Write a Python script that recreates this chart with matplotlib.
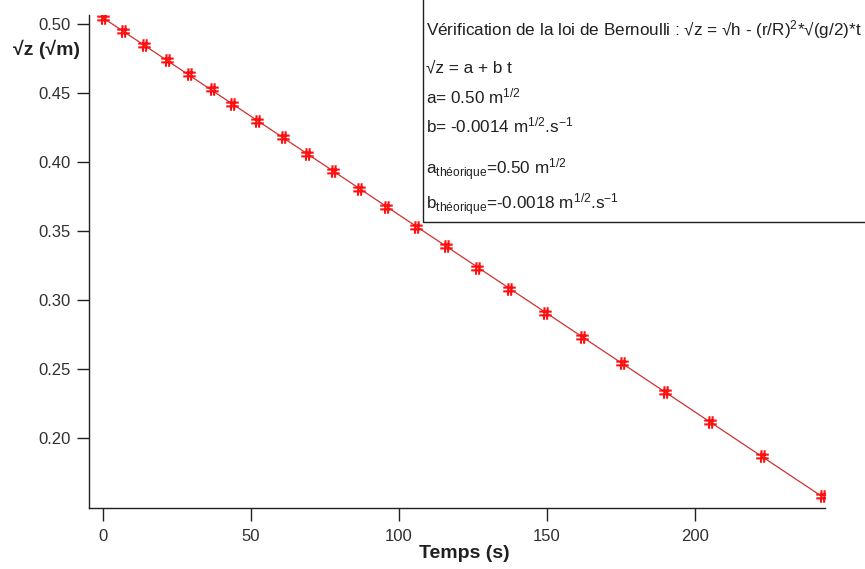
import numpy as np
import matplotlib
matplotlib.use("Agg")
import matplotlib.pyplot as plt
from matplotlib.patches import Rectangle
from matplotlib.path import Path

plt.rcParams['font.family'] = ['Liberation Sans', 'DejaVu Sans']
plt.rcParams['mathtext.fontset'] = 'custom'
plt.rcParams['mathtext.rm'] = 'Liberation Sans'
plt.rcParams['mathtext.it'] = 'Liberation Sans'
plt.rcParams['mathtext.bf'] = 'Liberation Sans:bold'

# Draining measurements: time (s) and square root of water height (sqrt(m))
temps = [0.0, 6.8, 13.9, 21.6, 29.1, 36.8, 43.6, 52.0, 60.8, 68.9, 77.7, 86.5,
         95.6, 105.7, 115.9, 126.4, 137.2, 149.3, 161.8, 175.3, 189.9, 205.1,
         222.6, 242.9]
racine_z = [0.5043, 0.4949, 0.4848, 0.4739, 0.4638, 0.4529, 0.4420, 0.4297,
            0.4181, 0.4058, 0.3935, 0.3804, 0.3674, 0.3529, 0.3391, 0.3232,
            0.3080, 0.2906, 0.2732, 0.2543, 0.2333, 0.2116, 0.1870, 0.1580]

x_ticks = [0, 50, 100, 150, 200]
y_ticks = [0.20, 0.25, 0.30, 0.35, 0.40, 0.45, 0.50]

t = np.array(temps)
sz = np.array(racine_z)
b_fit, a_fit = np.polyfit(t, sz, 1)
t_line = np.array([t.min(), t.max()])

# Hash-shaped marker: two slightly slanted verticals and two horizontals
hash_marker = Path(
    [(-0.25, -1.0), (-0.15, 1.0), (0.25, -1.0), (0.35, 1.0),
     (-1.0, 0.3), (1.0, 0.3), (-1.0, -0.3), (1.0, -0.3)],
    [Path.MOVETO, Path.LINETO] * 4)

fig = plt.figure(figsize=(8.65, 5.69), dpi=100)
ax = fig.add_axes([89/865, 1 - 508/569, (825 - 89)/865, (508 - 15)/569])

ax.plot(t_line, a_fit + b_fit * t_line, color='#d03030', lw=0.9, zorder=2)
ax.plot(t, sz, linestyle='none', marker=hash_marker, markersize=9,
        markerfacecolor='none', markeredgecolor='#ff1010',
        markeredgewidth=1.5, zorder=3)

ax.set_xlim(-4.7, 244)
ax.set_ylim(0.149, 0.5065)
ax.set_xticks(x_ticks)
ax.set_yticks(y_ticks)
ax.set_yticklabels([f"{v:.2f}" for v in y_ticks])

for side in ('top', 'right'):
    ax.spines[side].set_visible(False)
for side in ('left', 'bottom'):
    ax.spines[side].set_linewidth(1.0)
    ax.spines[side].set_color('#202020')

ax.tick_params(axis='both', direction='out', length=9, width=1.0,
               colors='#202020', labelsize=12, labelcolor='#303030')
ax.tick_params(axis='x', pad=6)
ax.tick_params(axis='y', pad=4)

# Axis titles
fig.text(13/865, 1 - 49/569, "√z (√m)", fontsize=14, fontweight='bold',
         ha='left', va='center', color='#202020')
fig.text(464/865, 1 - 553/569, "Temps (s)", fontsize=14, fontweight='bold',
         ha='center', va='center', color='#202020')

# Annotation panel with the fit results
box = Rectangle((423/865, 1 - 222/569), 0.6, 0.6, transform=fig.transFigure,
                facecolor='white', edgecolor='#202020', lw=1.0, zorder=5)
fig.patches.append(box)

lines = [
    (30, r"Vérification de la loi de Bernoulli : √z = √h - (r/R)$^{2}$*√(g/2)*t"),
    (68, r"√z = a + b t"),
    (96, r"a= 0.50 m$^{1/2}$"),
    (125, r"b= -0.0014 m$^{1/2}$.s$^{-1}$"),
    (170, r"a$_{\rm théorique}$=0.50 m$^{1/2}$"),
    (205, r"b$_{\rm théorique}$=-0.0018 m$^{1/2}$.s$^{-1}$"),
]
for y_px, s in lines:
    fig.text(426/865, 1 - y_px/569, s, fontsize=12.3, ha='left', va='center',
             color='#202020', zorder=6)

fig.savefig("out.png", dpi=100)
